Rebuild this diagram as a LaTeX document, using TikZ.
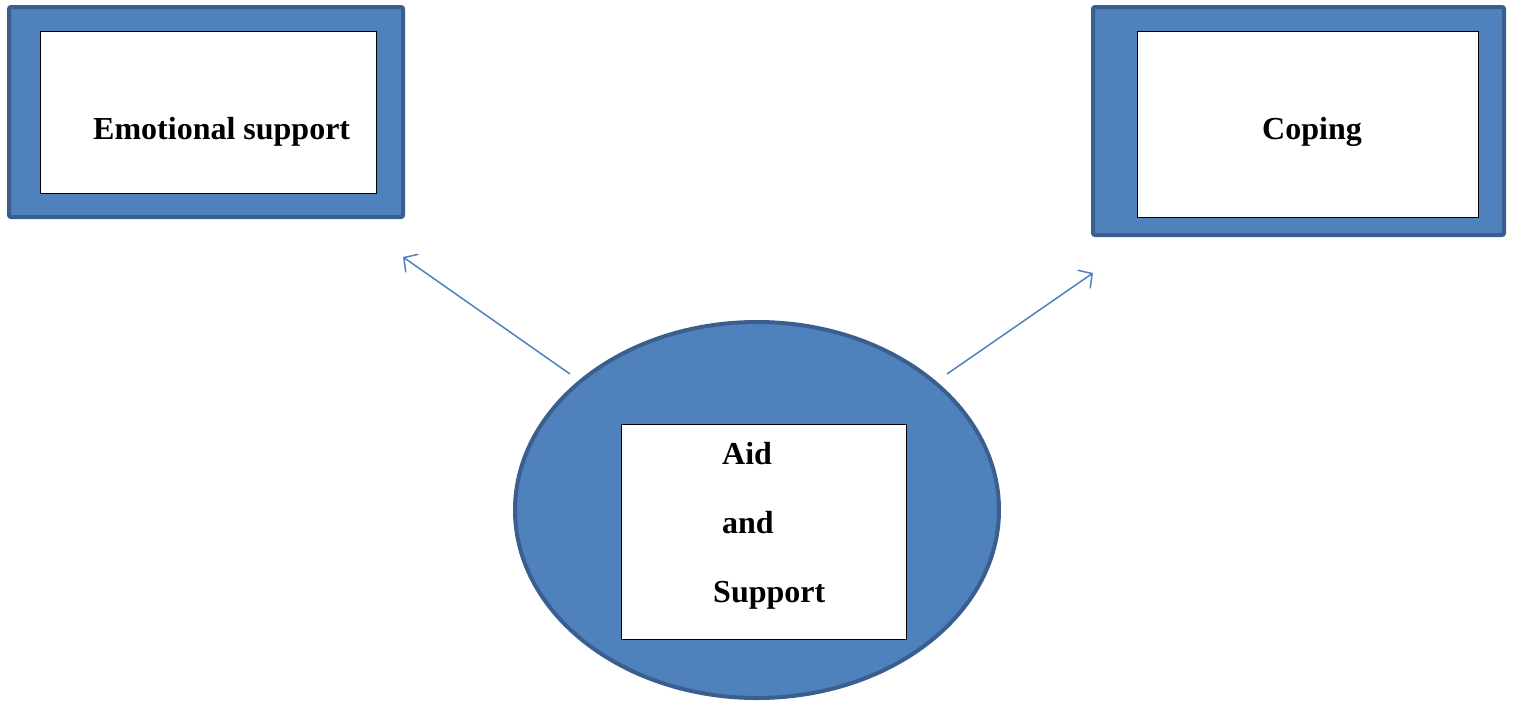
\documentclass[tikz,border=0pt]{standalone}
\usepackage{fontspec}
\setmainfont{Liberation Serif}
\usetikzlibrary{shapes.geometric,arrows.meta}
\definecolor{fillblue}{HTML}{4F81BD}
\definecolor{edgeblue}{HTML}{3A5F8E}
\tikzset{
  outerbox/.style={draw=edgeblue, fill=fillblue, line width=4pt, rounded corners=2pt},
  innerbox/.style={draw=black, fill=white, line width=1pt},
  lbl/.style={font=\fontsize{32}{38}\selectfont\bfseries, inner sep=0pt, anchor=base west},
  conn/.style={draw=fillblue, line width=1.5pt, -{Straight Barb[length=10pt,width=22pt,line width=1.5pt]}}
}
\begin{document}
\begin{tikzpicture}[x=1pt,y=-1pt]
\useasboundingbox (0,0) rectangle (1513,702);
% top-left
\draw[outerbox] (9,7) rectangle (403,217);
\draw[innerbox] (40,31) rectangle (376,193);
\node[lbl] (emo) at (93,139) {Emotional support};
% top-right
\draw[outerbox] (1093,7) rectangle (1504,235);
\draw[innerbox] (1137,31) rectangle (1478,217);
\node[lbl] (cop) at (1262,139) {Coping};
% ellipse
\draw[outerbox] (757,510) ellipse [x radius=242, y radius=188];
\draw[innerbox] (621,424) rectangle (906,639);
\node[lbl] (aid) at (722,464) {Aid};
\node[lbl] (and) at (722,533) {and};
\node[lbl] (sup) at (713,602) {Support};
% connectors
\coordinate (s1) at (570,374);
\coordinate (t1) at (403,257);
\coordinate (s2) at (947,374);
\coordinate (t2) at (1093,273);
\draw[conn] (s1) -- (t1);
\draw[conn] (s2) -- (t2);
\end{tikzpicture}
\end{document}
